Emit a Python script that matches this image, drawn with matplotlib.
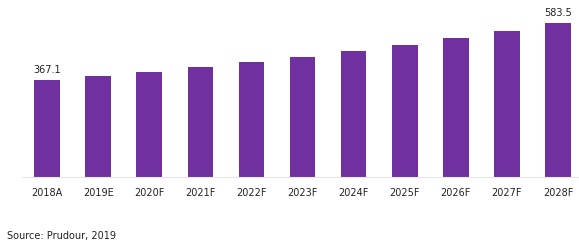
import matplotlib.pyplot as plt

years = ["2018A", "2019E", "2020F", "2021F", "2022F", "2023F",
         "2024F", "2025F", "2026F", "2027F", "2028F"]
values = [367.1, 383, 398, 417, 436, 455, 477, 500, 527, 553, 583.5]
labelled = {0: "367.1", 10: "583.5"}

fig = plt.figure(figsize=(5.79, 2.45), dpi=100)
# axes spans from the axis line (x=22px) to the right edge, baseline at y=177px
ax = fig.add_axes([22 / 579, 1 - 177 / 245, 557 / 579, 172 / 245])

x = list(range(len(years)))
ax.bar(x, values, width=0.5, color="#7030A0")

for i, txt in labelled.items():
    ax.text(i, values[i] + 18, txt, ha="center", va="bottom",
            fontsize=7, color="#222222")

ax.set_xlim(-0.49, 10.41)
ax.set_ylim(0, 172 / 154 * 583.5)
ax.set_xticks(x)
ax.set_xticklabels(years, fontsize=7, color="#222222")
ax.tick_params(axis="x", length=0, pad=8)
ax.set_yticks([])
for s in ["top", "right", "left"]:
    ax.spines[s].set_visible(False)
ax.spines["bottom"].set_color("#e6e6e6")
ax.spines["bottom"].set_linewidth(0.8)

fig.text(7 / 579, 1 - 236 / 245, "Source: Prudour, 2019", fontsize=7,
         color="#222222", va="center", ha="left")

fig.savefig("out.png", dpi=100)
